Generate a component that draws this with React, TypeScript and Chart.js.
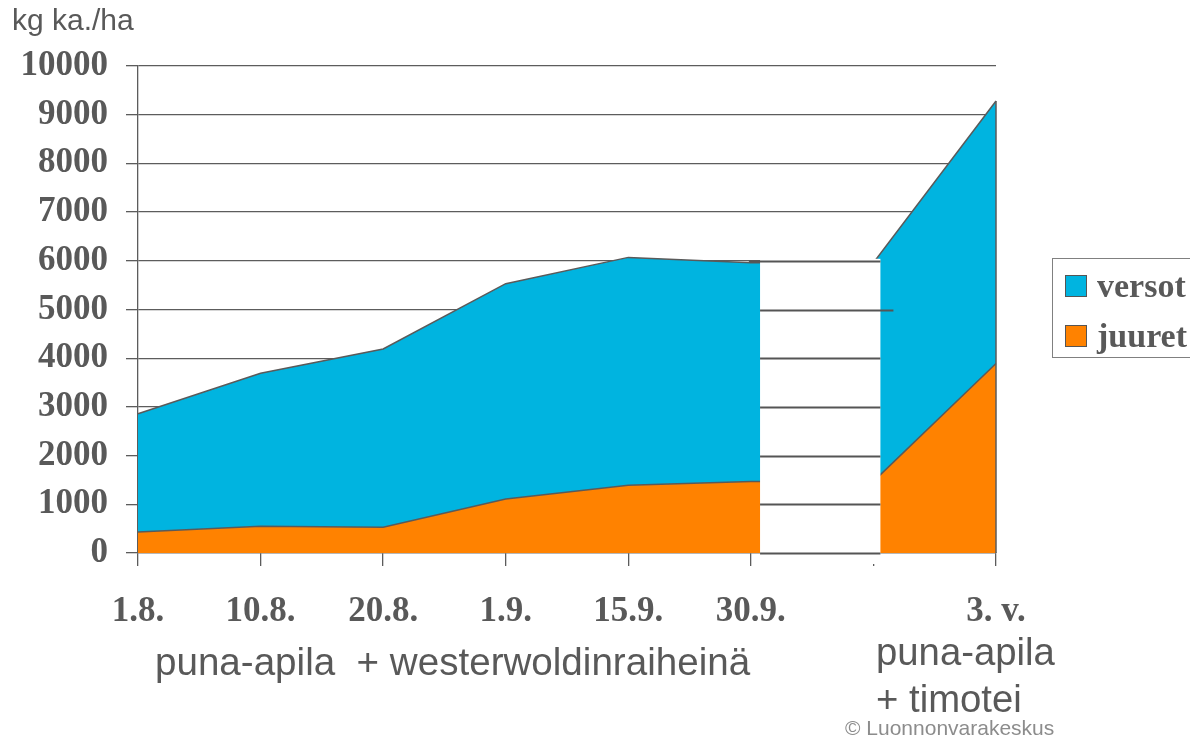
import React, { useEffect, useRef } from 'react';
import { Chart, registerables } from 'chart.js';

Chart.register(...registerables);

// ---- data ----
const categories: string[] = ['1.8.', '10.8.', '20.8.', '1.9.', '15.9.', '30.9.', '', '3. v.'];
const juuret: number[] = [430, 550, 530, 1110, 1390, 1470, 1470, 3890];
const versot: number[] = [2430, 3140, 3660, 4420, 4680, 4490, 4490, 5390];
const seriesNames: string[] = ['versot', 'juuret'];
const yMax = 10000;
const yStep = 1000;
const gapIndex = 6; // hidden category between the two experiments
const yLabel = 'kg ka./ha';
const groupLabel1 = 'puna-apila  + westerwoldinraiheinä';
const groupLabel2a = 'puna-apila';
const groupLabel2b = '+ timotei';
const credit = '© Luonnonvarakeskus';

const BLUE = '#00B4E0';
const ORANGE = '#FF8200';
const AXIS = '#5c5c5c';
const TEXT = '#595959';
const SERIF = "'Liberation Serif', 'Times New Roman', serif";
const SANS = "'Liberation Sans', Arial, sans-serif";

const overlayPlugin = {
  id: 'overlay',
  afterDatasetsDraw(chart: any) {
    const { ctx, chartArea } = chart;
    const xs = chart.scales.x;
    const ys = chart.scales.y;
    const x5 = xs.getPixelForValue(gapIndex - 1);
    const x6 = xs.getPixelForValue(gapIndex);
    const cw = x6 - x5;
    const left = x5 + cw * 0.075;
    const right = x6 + cw * 0.057;
    const top = ys.getPixelForValue(6000) - 2;
    const bottom = chartArea.bottom + 11;
    ctx.save();
    ctx.fillStyle = '#ffffff';
    ctx.fillRect(left, top, right - left, bottom - top);
    ctx.strokeStyle = '#555555';
    ctx.lineWidth = 2;
    for (let v = 0; v <= 6000; v += yStep) {
      const y = Math.round(ys.getPixelForValue(v)) + 0.5;
      ctx.beginPath();
      ctx.moveTo(v === 6000 ? x5 - 2 : left, y);
      ctx.lineTo(v === 5000 ? right + 13 : right, y);
      ctx.stroke();
    }
    // right edge stroke of the last area
    const last = categories.length - 1;
    const xr = xs.getPixelForValue(last);
    ctx.strokeStyle = '#5a5a5a';
    ctx.lineWidth = 1.5;
    ctx.beginPath();
    ctx.moveTo(xr, ys.getPixelForValue(0));
    ctx.lineTo(xr, ys.getPixelForValue(juuret[last] + versot[last]));
    ctx.stroke();
    ctx.restore();
  },
  afterDraw(chart: any) {
    const { ctx } = chart;
    ctx.save();
    ctx.fillStyle = TEXT;
    ctx.textAlign = 'left';
    ctx.textBaseline = 'alphabetic';
    ctx.font = `30px ${SANS}`;
    ctx.fillText(yLabel, 12, 30);
    ctx.font = `38.6px ${SANS}`;
    ctx.fillText(groupLabel1, 155, 675);
    ctx.font = `38.3px ${SANS}`;
    ctx.fillText(groupLabel2a, 876, 665);
    ctx.fillText(groupLabel2b, 876, 712);
    ctx.fillStyle = '#8c8c8c';
    ctx.font = `21px ${SANS}`;
    ctx.fillText(credit, 845, 735);
    // legend
    ctx.strokeStyle = '#808080';
    ctx.lineWidth = 1;
    ctx.strokeRect(1052.5, 258.5, 160, 99);
    const items = [
      { name: seriesNames[0], color: BLUE, y: 275 },
      { name: seriesNames[1], color: ORANGE, y: 325 },
    ];
    ctx.font = `bold 34px ${SERIF}`;
    items.forEach((it) => {
      ctx.fillStyle = it.color;
      ctx.fillRect(1065, it.y, 21, 21);
      ctx.strokeStyle = '#555555';
      ctx.lineWidth = 1;
      ctx.strokeRect(1065.5, it.y + 0.5, 21, 21);
      ctx.fillStyle = TEXT;
      ctx.fillText(it.name, 1097, it.y + 22);
    });
    ctx.restore();
  },
};

export default function App() {
  const ref = useRef<HTMLCanvasElement | null>(null);
  useEffect(() => {
    document.body.style.margin = '0';
    if (!ref.current) return;
    const chart = new Chart(ref.current, {
      type: 'line',
      data: {
        labels: categories,
        datasets: [
          {
            label: seriesNames[1],
            data: juuret,
            backgroundColor: ORANGE,
            borderColor: '#5a5a5a',
            borderWidth: 1.5,
            fill: 'origin',
            pointRadius: 0,
            tension: 0,
          },
          {
            label: seriesNames[0],
            data: versot,
            backgroundColor: BLUE,
            borderColor: '#5a5a5a',
            borderWidth: 1.5,
            fill: '-1',
            pointRadius: 0,
            tension: 0,
          },
        ],
      },
      options: {
        responsive: false,
        animation: false,
        layout: { padding: { left: 0, top: 66, right: 194, bottom: 0 } },
        plugins: {
          legend: { display: false },
          tooltip: { enabled: false },
          title: { display: false },
        },
        scales: {
          x: {
            offset: false,
            grid: {
              drawOnChartArea: false,
              drawTicks: true,
              tickLength: 13,
              color: AXIS,
              lineWidth: 1.3,
              offset: false,
            },
            border: { display: true, color: AXIS, width: 1.3 },
            ticks: {
              color: TEXT,
              padding: 25,
              autoSkip: false,
              maxRotation: 0,
              font: { family: SERIF, size: 35, weight: 'bold' },
            },
            afterFit: (s: any) => {
              s.height = 184;
            },
          },
          y: {
            stacked: true,
            min: 0,
            max: yMax,
            grid: { color: AXIS, lineWidth: 1.3, tickLength: 12, drawTicks: true },
            border: { display: true, color: AXIS, width: 1.3 },
            ticks: {
              stepSize: yStep,
              color: TEXT,
              padding: 18,
              font: { family: SERIF, size: 35, weight: 'bold' },
              callback: (v: any) => String(v),
            },
            afterFit: (s: any) => {
              s.width = 138;
            },
          },
        },
      },
      plugins: [overlayPlugin],
    });
    return () => chart.destroy();
  }, []);
  return <canvas ref={ref} width={1190} height={737} style={{ display: 'block' }} />;
}
